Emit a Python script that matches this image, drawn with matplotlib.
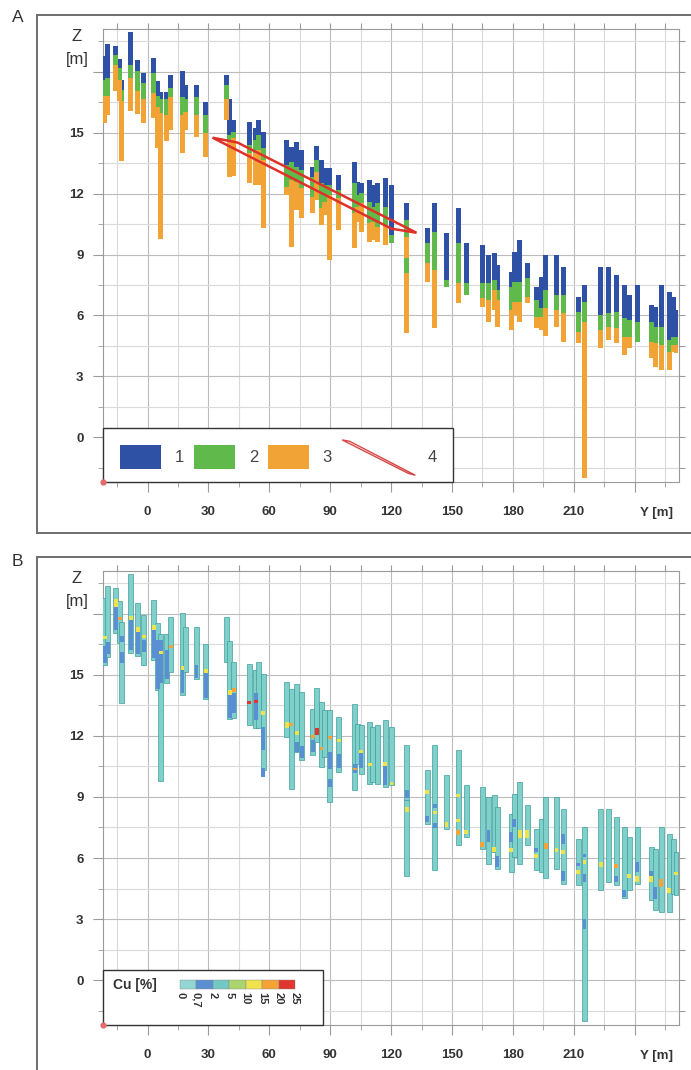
import matplotlib
matplotlib.use("Agg")
import matplotlib.pyplot as plt
import numpy as np
from matplotlib.patches import Rectangle, Polygon
from matplotlib.lines import Line2D
from matplotlib.ticker import MultipleLocator

plt.rcParams["font.family"] = ["Liberation Sans", "DejaVu Sans"]

# borehole positions along the profile (Y, m) and interval boundaries (Z, m)
bh_y = [-21.2, -19.7, -15.8, -13.8, -12.8, -8.4, -4.9, -2.0, 3.0, 4.9, 6.4, 9.4, 11.3,
        17.2, 18.7, 24.1, 28.6, 38.9, 40.4, 42.4, 50.2, 53.2, 54.7, 57.1, 68.5, 70.9,
        73.4, 75.9, 81.3, 83.3, 85.7, 87.2, 89.7, 94.1, 102.0, 103.4, 105.4, 109.4,
        110.8, 113.3, 117.2, 120.2, 127.6, 127.6, 137.9, 141.4, 147.3, 153.2, 157.1,
        165.0, 168.0, 170.9, 172.4, 179.3, 180.8, 183.3, 187.2, 191.6, 194.1, 196.1,
        201.5, 204.9, 212.3, 215.3, 223.2, 227.1, 231.0, 235.0, 237.4, 241.4, 248.3,
        250.2, 253.2, 257.1, 259.1, 260.4]
z_top = [18.79, 19.38, 19.24, 18.60, 17.61, 19.93, 18.55, 17.95, 18.65, 17.56, 17.02,
         17.02, 17.86, 18.05, 17.36, 17.36, 16.53, 17.86, 16.67, 15.62, 15.52, 15.22,
         15.62, 15.03, 14.66, 14.31, 14.56, 14.16, 13.32, 14.36, 13.67, 13.28, 13.28,
         12.93, 13.57, 12.59, 12.54, 12.68, 12.44, 12.54, 12.78, 12.44, 11.55, 8.84,
         10.32, 11.55, 10.07, 11.31, 9.58, 9.48, 8.99, 9.09, 8.50, 8.15, 9.14, 9.73,
         8.60, 7.41, 7.91, 8.99, 8.99, 8.40, 6.92, 7.51, 8.40, 8.40, 8.00, 7.51, 7.02,
         7.51, 6.53, 6.43, 7.51, 7.17, 6.92, 6.28]
z_blue = [17.61, 17.71, 18.84, 18.20, 17.12, 18.35, 18.05, 17.46, 17.95, 16.82, 16.63,
          16.63, 17.22, 16.77, 16.63, 16.77, 15.89, 17.36, 14.90, 15.05, 14.38, 14.66,
          14.88, 14.24, 13.42, 13.57, 13.33, 13.18, 12.83, 13.67, 12.54, 12.44, 12.44,
          12.19, 12.54, 11.95, 12.05, 11.60, 11.36, 11.55, 11.36, 9.98, 10.72, 8.84,
          9.58, 10.12, 7.76, 9.58, 7.61, 7.61, 7.61, 7.76, 7.27, 7.41, 7.66, 7.66,
          7.86, 6.77, 6.38, 7.27, 7.02, 7.02, 6.18, 6.67, 6.03, 6.13, 6.18, 5.89, 5.79,
          5.69, 5.69, 5.44, 5.44, 4.80, 4.95, 4.95]
z_green = [16.82, 16.82, 18.35, 17.61, 16.58, 17.71, 17.07, 16.63, 16.97, 16.28, 15.98,
           15.89, 16.73, 15.89, 16.03, 15.89, 15.00, 16.67, 14.56, 14.75, 13.99, 13.99,
           14.14, 13.65, 12.34, 12.68, 12.59, 12.29, 11.85, 13.08, 11.31, 11.60, 11.95,
           11.80, 11.06, 11.36, 11.55, 10.57, 10.62, 10.37, 10.47, 9.58, 9.88, 8.10,
           8.60, 8.25, 7.41, 7.61, 7.02, 6.87, 6.77, 7.27, 6.77, 6.28, 6.67, 6.67, 6.92,
           5.94, 5.94, 6.38, 6.28, 6.13, 5.20, 5.69, 5.30, 5.44, 5.39, 4.95, 4.95, 4.70,
           4.70, 4.66, 4.56, 4.21, 4.56, 4.56]
z_bot = [15.49, 15.89, 17.07, 16.58, 13.62, 16.08, 15.94, 15.49, 15.74, 14.26, 9.78,
         14.61, 15.15, 14.01, 15.15, 14.80, 13.82, 15.62, 12.83, 12.88, 12.51, 12.41,
         12.41, 10.30, 11.95, 9.38, 11.21, 10.81, 11.06, 11.70, 10.47, 10.96, 8.74,
         10.22, 9.33, 10.62, 10.12, 9.63, 9.73, 9.63, 9.48, 9.58, 8.84, 5.14, 7.66,
         5.39, 7.41, 6.63, 7.02, 6.43, 5.69, 6.28, 5.44, 5.30, 6.04, 5.69, 6.63, 5.39,
         5.30, 5.00, 5.44, 4.70, 4.66, -2.0, 4.41, 4.80, 4.66, 4.06, 4.41, 4.70, 3.92,
         3.47, 3.33, 3.33, 4.21, 4.16]

# outline of element 4 (red)
red_y = [32.0, 44.3, 132.5, 120.2]
red_z = [14.75, 14.51, 10.07, 10.27]

# Cu intervals (class index into cu_colors)
cu_y = [-21.2, -21.2, -19.7, -15.8, -15.8, -13.8, -12.8, -12.8, -8.4, -8.4, -4.9, -4.9,
        -2.0, -2.0, 3.0, 3.0, 4.9, 6.4, 6.4, 9.4, 11.3, 17.2, 17.2, 24.1, 28.6, 28.6,
        40.4, 40.4, 42.4, 42.4, 50.2, 53.2, 53.2, 57.1, 57.1, 57.1, 68.5, 70.9, 73.4,
        73.4, 75.9, 81.3, 81.3, 83.3, 85.7, 89.7, 89.7, 89.7, 94.1, 94.1, 102.0, 102.0,
        105.4, 105.4, 109.4, 117.2, 117.2, 120.2, 127.6, 127.6, 137.9, 137.9, 141.4,
        141.4, 141.4, 147.3, 153.2, 153.2, 153.2, 157.1, 165.0, 168.0, 170.9, 172.4,
        179.3, 179.3, 180.8, 183.3, 187.2, 191.6, 191.6, 196.1, 201.5, 204.9, 204.9,
        204.9, 212.3, 212.3, 215.3, 215.3, 215.3, 215.3, 223.2, 231.0, 231.0, 235.0,
        237.4, 241.4, 241.4, 248.3, 248.3, 250.2, 253.2, 257.1, 260.4]
cu_top = [16.9, 16.4, 16.6, 18.7, 18.35, 17.85, 16.9, 16.1, 17.9, 17.7, 17.35, 17.1,
          16.95, 16.7, 17.45, 17.2, 16.7, 16.7, 16.15, 16.2, 16.45, 15.45, 15.25, 15.5,
          15.3, 15.1, 14.25, 14.0, 14.1, 14.35, 13.7, 14.1, 13.75, 13.2, 12.45, 10.4,
          12.7, 12.65, 12.25, 11.7, 11.5, 12.05, 11.8, 12.4, 11.45, 12.0, 11.2, 9.9,
          11.85, 11.1, 10.6, 10.4, 11.3, 11.15, 10.65, 10.7, 10.5, 9.75, 9.35, 8.5, 9.35,
          8.05, 8.65, 8.3, 7.7, 7.75, 9.15, 7.9, 7.4, 7.4, 6.8, 7.4, 6.55, 6.1, 7.3, 6.5,
          7.9, 7.4, 7.4, 6.5, 6.2, 6.75, 6.5, 7.2, 6.4, 5.35, 5.75, 5.4, 6.2, 5.9, 5.2,
          3.0, 5.8, 5.7, 5.1, 4.45, 5.2, 5.8, 5.1, 5.35, 5.1, 4.6, 4.95, 4.55, 5.3]
cu_bot = [16.75, 15.6, 16.0, 18.35, 17.2, 17.7, 16.6, 15.6, 17.7, 16.2, 17.1, 16.0,
          16.8, 16.1, 17.2, 15.8, 14.3, 14.6, 16.0, 14.8, 16.3, 15.25, 14.1, 14.85,
          15.1, 13.85, 14.0, 12.9, 13.1, 14.15, 13.55, 12.8, 13.6, 13.0, 11.3, 10.0,
          12.4, 12.5, 12.05, 11.2, 10.9, 11.9, 11.2, 12.05, 11.3, 11.85, 10.35, 9.5,
          11.7, 10.4, 10.2, 10.3, 11.15, 10.4, 10.5, 10.5, 9.6, 9.6, 8.95, 8.25, 9.15,
          7.75, 8.45, 8.15, 7.45, 7.5, 9.0, 7.75, 7.15, 7.2, 6.55, 6.8, 6.3, 5.55, 6.8,
          6.3, 7.5, 7.0, 7.0, 6.3, 6.0, 6.45, 6.3, 6.7, 6.2, 4.85, 5.6, 5.2, 6.05, 5.7,
          4.8, 2.5, 5.55, 5.5, 4.8, 4.1, 5.0, 5.3, 4.8, 5.1, 4.8, 4.0, 4.6, 4.3, 5.15]
cu_cls = [4, 1, 1, 4, 1, 5, 1, 1, 4, 1, 4, 1, 4, 1, 4, 1, 1, 1, 4, 1, 5, 4, 1, 1, 4, 1,
          4, 1, 1, 5, 6, 1, 6, 4, 1, 1, 4, 5, 4, 1, 1, 5, 1, 6, 5, 5, 1, 1, 4, 1, 1, 5,
          4, 1, 4, 4, 1, 4, 1, 4, 4, 1, 1, 4, 1, 4, 4, 4, 5, 4, 5, 1, 4, 1, 1, 4, 1, 4,
          4, 1, 4, 5, 4, 1, 4, 1, 1, 4, 1, 4, 1, 1, 4, 5, 1, 1, 4, 1, 4, 1, 4, 1, 5, 4, 4]

cu_labels = ["0", "0,7", "2", "5", "10", "15", "20", "25"]
cu_colors = ["#92d6d2", "#5b8fd4", "#72c8c2", "#a9d46e", "#f0e24c", "#f5a236", "#e0362d"]

x_ticks = [0, 30, 60, 90, 120, 150, 180, 210, 240]
x_labels = ["0", "30", "60", "90", "120", "150", "180", "210", ""]
z_ticks = [0, 3, 6, 9, 12, 15, 18]
z_labels = ["0", "3", "6", "9", "12", "15", ""]

BLUE, GREEN, ORANGE = "#2e51a6", "#5fba4b", "#f2a336"
RED = "#e0302a"
TEXT = "#333333"
W = 2.3
XLIM = (-22, 262)
YLIM = (-2.2, 20.1)

top = np.array(z_top)
zb = np.array(z_blue)
zg = np.array(z_green)
bot = np.array(z_bot)


def style_axes(ax):
    ax.set_xlim(*XLIM)
    ax.set_ylim(*YLIM)
    ax.set_xticks(x_ticks)
    ax.set_xticklabels(x_labels)
    ax.set_yticks(z_ticks)
    ax.set_yticklabels(z_labels)
    ax.xaxis.set_minor_locator(MultipleLocator(15))
    ax.yaxis.set_minor_locator(MultipleLocator(1.5))
    ax.grid(which="major", color="#bcbcbc", lw=0.8)
    ax.grid(which="minor", color="#dadada", lw=0.8)
    ax.set_axisbelow(True)
    for s in ax.spines.values():
        s.set_color("#9a9a9a")
        s.set_linewidth(0.8)
    ax.tick_params(which="both", direction="out", color="#9a9a9a", labelcolor=TEXT,
                   labelsize=9.5)
    ax.tick_params(which="major", length=7)
    ax.tick_params(which="minor", length=3.5)
    ax.tick_params(axis="x", which="major", pad=10)
    ax.tick_params(axis="y", which="major", pad=7)
    plt.setp(ax.get_xticklabels() + ax.get_yticklabels(), fontweight="bold")
    sx = ax.secondary_xaxis("top")
    sx.set_xticks(np.arange(-15, 262, 15))
    sx.tick_params(length=4, color="#9a9a9a", labeltop=False)
    sx.spines["top"].set_visible(False)
    sy = ax.secondary_yaxis("right")
    sy.set_yticks(np.arange(-1.5, 20.1, 1.5))
    sy.tick_params(length=4, color="#9a9a9a", labelright=False)
    sy.spines["right"].set_visible(False)
    ax.text(251, -0.068, "Y [m]", transform=ax.get_xaxis_transform(), ha="center",
            va="center", fontsize=9.5, fontweight="bold", color=TEXT)
    ax.text(-0.045, 0.984, "Z", transform=ax.transAxes, ha="center", va="center",
            fontsize=12, color=TEXT)
    ax.text(-0.045, 0.932, "[m]", transform=ax.transAxes, ha="center", va="center",
            fontsize=12, color=TEXT)
    ax.plot(XLIM[0], YLIM[0], "o", ms=3.5, color="#e86a6a", clip_on=False, zorder=8)


fig = plt.figure(figsize=(6.91, 10.70), dpi=100)

# outer panel frames
for y0, y1 in [(15, 533), (557, 1075)]:
    fy0, fy1 = 1 - y1 / 1070, 1 - y0 / 1070
    fig.add_artist(Line2D([37 / 691, 1.0], [fy1, fy1], color="#6e6e6e", lw=1.4))
    fig.add_artist(Line2D([37 / 691, 1.0], [fy0, fy0], color="#6e6e6e", lw=1.4))
    fig.add_artist(Line2D([37 / 691, 37 / 691], [fy0, fy1], color="#6e6e6e", lw=1.4))
fig.text(12 / 691, 1 - 18 / 1070, "A", fontsize=12.5, color=TEXT, va="center")
fig.text(12 / 691, 1 - 562 / 1070, "B", fontsize=12.5, color=TEXT, va="center")

# ---- panel A: lithology
axA = fig.add_axes([0.149, 0.5495, 0.834, 0.4234])
style_axes(axA)
axA.bar(bh_y, top - zb, bottom=zb, width=W, color=BLUE, lw=0, zorder=3)
axA.bar(bh_y, zb - zg, bottom=zg, width=W, color=GREEN, lw=0, zorder=3)
axA.bar(bh_y, zg - bot, bottom=bot, width=W, color=ORANGE, lw=0, zorder=3)
axA.add_patch(Polygon(np.column_stack([red_y, red_z]), closed=True, fill=False,
                      ec=RED, lw=1.8, zorder=5))

tA = axA.transAxes
axA.add_patch(Rectangle((0, 0), 0.608, 0.119, transform=tA, fc="white", ec="#333333",
                        lw=1.0, zorder=6, clip_on=False))
for x0, c, lab in [(0.0295, BLUE, "1"), (0.158, GREEN, "2"), (0.286, ORANGE, "3")]:
    axA.add_patch(Rectangle((x0, 0.029), 0.0715, 0.053, transform=tA, fc=c, lw=0,
                            zorder=7))
    axA.text(x0 + 0.095, 0.055, lab, transform=tA, fontsize=12, color="#444444",
             va="center", zorder=7)
axA.add_patch(Polygon([(0.415, 0.093), (0.428, 0.090), (0.542, 0.015), (0.530, 0.019)],
                      closed=True, fill=False, ec="#d84848", lw=1.0, transform=tA,
                      zorder=7))
axA.text(0.564, 0.055, "4", transform=tA, fontsize=12, color="#444444", va="center",
         zorder=7)

# ---- panel B: Cu grade
axB = fig.add_axes([0.149, 0.0421, 0.834, 0.4243])
style_axes(axB)
axB.bar(bh_y, top - bot, bottom=bot, width=W, color="#7fcfca", ec="#3f9f9b", lw=0.5,
        zorder=3)
axB.bar(cu_y, np.array(cu_top) - np.array(cu_bot), bottom=cu_bot, width=W * 0.85,
        color=[cu_colors[c] for c in cu_cls], lw=0, zorder=4)

tB = axB.transAxes
axB.add_patch(Rectangle((0, 0), 0.382, 0.121, transform=tB, fc="white", ec="#333333",
                        lw=1.0, zorder=6, clip_on=False))
axB.text(0.017, 0.088, "Cu [%]", transform=tB, fontsize=10, fontweight="bold",
         color=TEXT, va="center", zorder=7)
cb_x0, cb_w = 0.1337, 0.0285
for i, c in enumerate(cu_colors):
    axB.add_patch(Rectangle((cb_x0 + i * cb_w, 0.079), cb_w, 0.020, transform=tB, fc=c,
                            ec="#888888", lw=0.3, zorder=7))
for i, lab in enumerate(cu_labels):
    axB.text(cb_x0 + i * cb_w, 0.073, lab, transform=tB, rotation=270, ha="center",
             va="top", fontsize=8, fontweight="bold", color=TEXT, zorder=7)

fig.savefig("out.png", dpi=100)
